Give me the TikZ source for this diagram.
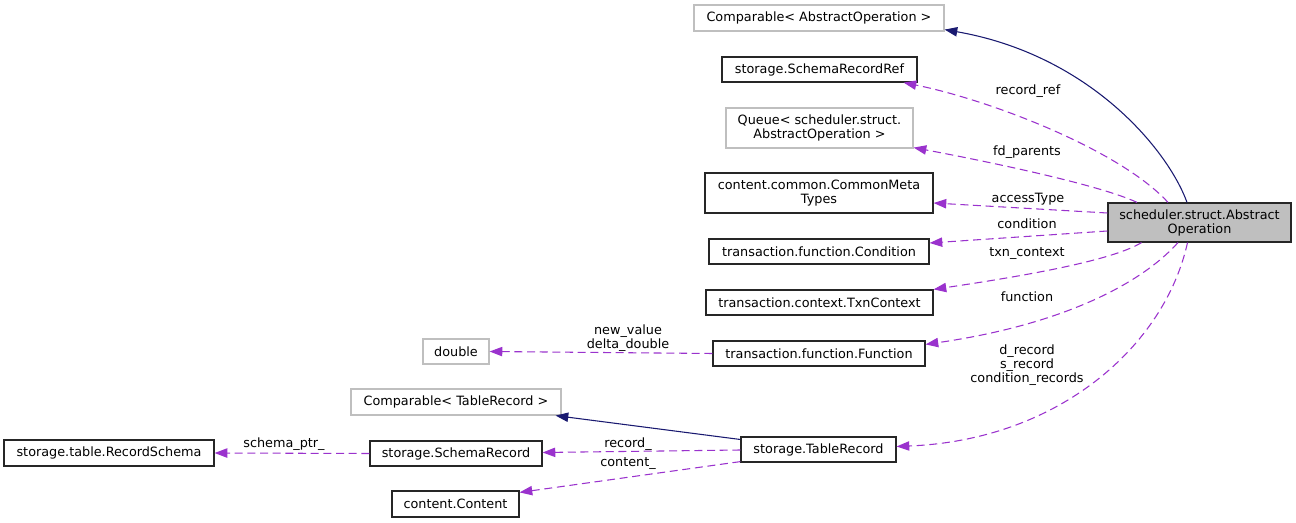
\documentclass[tikz,border=0pt]{standalone}
\usepackage{fontspec}
\setmainfont{DejaVu Sans}
\usetikzlibrary{arrows.meta, calc}
\definecolor{useEdge}{HTML}{9A32CD}
\definecolor{inhEdge}{HTML}{191970}
\definecolor{boxGray}{HTML}{BFBFBF}
\newcommand{\dfont}{\fontsize{9.6}{10.5}\selectfont}

\begin{document}
\begin{tikzpicture}[x=0.75pt, y=-0.75pt,
    cls/.style 2 args={draw=black!85, line width=0.9pt, inner sep=0pt, align=center,
        font=\dfont, minimum width=#1*0.75pt, minimum height=#2*0.75pt},
    ext/.style 2 args={cls={#1}{#2}, draw=boxGray},
    main/.style 2 args={cls={#1}{#2}, fill=boxGray},
    lbl/.style={inner sep=0pt, align=center, font=\dfont},
    uses/.style={draw=useEdge, line width=0.8pt, dash pattern=on 6pt off 3.5pt,
        -{Triangle[length=9.5pt, width=7pt]}},
    inherit/.style={draw=inhEdge, line width=0.8pt,
        -{Triangle[length=9.5pt, width=7pt]}}]
    \useasboundingbox (0,0) rectangle (1296,523);

    % The documented class
    \node[main={183}{39}] (ao) at (1199.5,222.5) {scheduler.struct.Abstract\\Operation};

    % Classes used by it
    \node[ext={250}{26}] (cmpao) at (819,18) {Comparable< AbstractOperation >};
    \node[cls={195}{25}] (srref) at (819.5,69.5) {storage.SchemaRecordRef};
    \node[ext={187}{40}] (queue) at (819.5,128) {Queue< scheduler.struct.\\AbstractOperation >};
    \node[cls={228}{40}] (cmeta) at (819,193) {content.common.CommonMeta\\Types};
    \node[cls={220}{25}] (cond) at (819,251.5) {transaction.function.Condition};
    \node[cls={227}{25}] (txn) at (819.5,302.5) {transaction.context.TxnContext};
    \node[cls={212}{25}] (func) at (819,353.5) {transaction.function.Function};
    \node[cls={155}{25}] (trec) at (818.5,449.5) {storage.TableRecord};

    % Second level
    \node[ext={66}{25}] (dbl) at (456,351.5) {double};
    \node[ext={210}{26}] (cmptr) at (456,402) {Comparable< TableRecord >};
    \node[cls={172}{25}] (srec) at (456,453.5) {storage.SchemaRecord};
    \node[cls={127}{26}] (cont) at (455.5,504) {content.Content};
    \node[cls={210}{26}] (rschema) at (109,453) {storage.table.RecordSchema};

    % Edges out of the documented class
    \draw[inherit] ($(ao.north)+(-12.5,0)$) .. controls (1168,150) and (1090,55) .. ($(cmpao.south east)+(0,-2)$);
    \draw[uses] ($(ao.north)+(-31.5,0)$) .. controls (1120,150) and (990,100) .. ($(srref.south east)+(-14,0)$);
    \draw[uses] ($(ao.north)+(-62.5,0)$) .. controls (1100,185) and (990,162) .. ($(queue.south east)+(0,-1)$);
    \draw[uses] ($(ao.west)+(0,-9.5)$) -- ($(cmeta.east)+(0,10)$);
    \draw[uses] ($(ao.west)+(0,8.5)$) -- ($(cond.east)+(0,-8.5)$);
    \draw[uses] ($(ao.south)+(-58,0)$) .. controls (1110,262) and (1010,278) .. (txn.north east);
    \draw[uses] ($(ao.south)+(-21.5,0)$) .. controls (1140,285) and (1060,325) .. ($(func.north east)+(0,4)$);
    \draw[uses] ($(ao.south)+(-12,0)$) .. controls (1165,345) and (1060,440) .. ($(trec.east)+(0,-3)$);

    % Edges of the second level
    \draw[uses] (func.west) -- (dbl.east);
    \draw[inherit] ($(trec.west)+(0,-10)$) -- ($(cmptr.south east)+(-6,0)$);
    \draw[uses] ($(trec.west)+(0,0.5)$) -- ($(srec.east)+(0,-1)$);
    \draw[uses] ($(trec.south west)+(0,-1)$) -- ($(cont.north east)+(0,2)$);
    \draw[uses] (srec.west) -- (rschema.east);

    % Edge labels
    \foreach \n/\x/\y/\t in {recref/1028/91/record\_ref, fd/1027/152/fd\_parents,
        acc/1028/199/accessType, cond/1027/224/condition, txn/1027/254/txn\_context,
        func/1027/297/function, record/628/444/record\_, content/628/464/content\_,
        schema/284/444/schema\_ptr\_} {
        \node[lbl] (l\n) at (\x,\y) {\t};
    }
    \node[lbl] (lrec) at (1027,365) {d\_record\\s\_record\\condition\_records};
    \node[lbl] (ldbl) at (628,338) {new\_value\\delta\_double};
\end{tikzpicture}
\end{document}
